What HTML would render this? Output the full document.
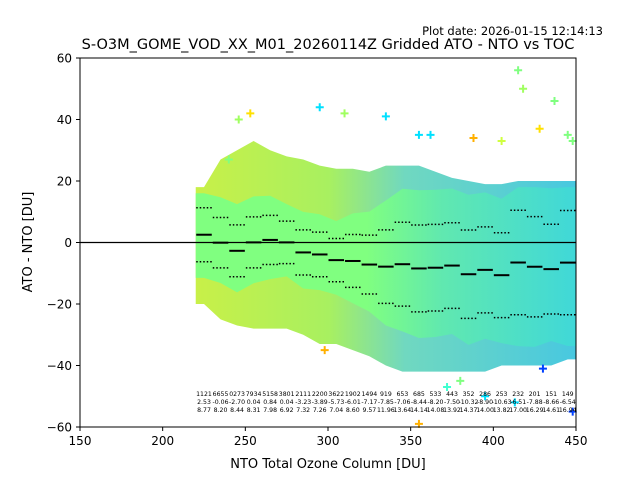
<!DOCTYPE html>
<html><head><meta charset="utf-8"><style>
body{margin:0;background:#fff}
svg text{font-family:"DejaVu Sans","Liberation Sans",sans-serif}
</style></head><body>
<svg id="c" width="640" height="480" viewBox="0 0 640 480">
<defs>
<linearGradient id="outerG" x1="0" x2="1" y1="0" y2="0">
<stop offset="0" stop-color="#c8f048"/><stop offset="0.35" stop-color="#a8f060"/><stop offset="0.55" stop-color="#70d8c0"/><stop offset="1" stop-color="#48c8e0"/></linearGradient>
<linearGradient id="coreG" x1="0" x2="1" y1="0" y2="0">
<stop offset="0" stop-color="#80ff80"/><stop offset="0.45" stop-color="#80ff80"/><stop offset="0.65" stop-color="#60e8b0"/><stop offset="1" stop-color="#40d8d8"/></linearGradient>
</defs>
<text x="603" y="35" font-size="11.5" text-anchor="end">Plot date: 2026-01-15 12:14:13</text>
<text x="328" y="49" font-size="14.5" text-anchor="middle">S-O3M_GOME_VOD_XX_M01_20260114Z Gridded ATO - NTO vs TOC</text>
<g id="plot"></g>
<rect x="80" y="58" width="496" height="369" fill="none" stroke="#000" stroke-width="1"/>
<text x="328" y="468" font-size="13" text-anchor="middle">NTO Total Ozone Column [DU]</text>
<text transform="translate(32,242) rotate(-90)" font-size="13" text-anchor="middle">ATO - NTO [DU]</text>
</svg>
<script>
const binStart=[220,230,240,250,260,270,280,290,300,310,320,330,340,350,360,370,380,390,400,410,420,430,440];
const counts=["1121","6655","0273","7934","5158","3801","2111","2200","3622","1902","1494","919","653","685","533","443","352","286","253","232","201","151","149"];
const means=[2.53,-0.06,-2.70,0.04,0.84,0.04,-3.23,-3.89,-5.73,-6.01,-7.17,-7.85,-7.06,-8.44,-8.20,-7.50,-10.32,-8.90,-10.63,-6.51,-7.88,-8.66,-6.54];
const stds=[8.77,8.20,8.44,8.31,7.98,6.92,7.32,7.26,7.04,8.60,9.57,11.96,13.64,14.14,14.08,13.92,14.37,14.00,13.82,17.00,16.29,14.61,16.94];
const envTop=[18,27,30,33,30,28,27,25,24,24,23,25,25,25,23,21,20,19,19,20,20,20,20];
const envBot=[-20,-25,-27,-28,-28,-28,-30,-33,-33,-35,-37,-40,-42,-42,-42,-42,-42,-42,-40,-40,-40,-40,-38];
const outX=[415,418,437,335,295,310,246,253,388,355,362,445,448,298,355,413,448,430,395,380,428,240,372,405];
const outY=[56,50,46,41,44,42,40,42,34,35,35,35,33,-35,-59,-52,-55,-41,-50,-45,37,27,-47,33];
const outC=["#80ff80","#a0ff60","#80ff80","#00e0ff","#00e0ff","#a0ff60","#a0ff60","#ffe000","#ffb000","#00e0ff","#00e0ff","#80ff80","#80ff80","#ffb000","#ffb000","#00e0ff","#0040ff","#0040ff","#00e0ff","#80ff80","#ffe000","#80ff80","#40ffd0","#d0ff40"];
const xTicks=[150,200,250,300,350,400,450];
const yTicks=[-60,-40,-20,0,20,40,60];
const X=v=>80+(v-150)*496/300, Y=v=>242.5-v*369/120;
const NS="http://www.w3.org/2000/svg", g=document.getElementById('plot');
function mk(t,a){const e=document.createElementNS(NS,t);for(const k in a)e.setAttribute(k,a[k]);g.appendChild(e);return e;}
function band(top,bot){
 const n=binStart.length;let p=[X(binStart[0])+','+Y(top(0))];
 for(let i=0;i<n;i++)p.push(X(binStart[i]+5)+','+Y(top(i)));
 p.push(X(binStart[n-1]+10)+','+Y(top(n-1)));p.push(X(binStart[n-1]+10)+','+Y(bot(n-1)));
 for(let i=n-1;i>=0;i--)p.push(X(binStart[i]+5)+','+Y(bot(i)));
 p.push(X(binStart[0])+','+Y(bot(0)));return p.join(' ');}
let e=mk('polygon',{points:band(i=>envTop[i],i=>envBot[i]),fill:'url(#outerG)'});


e=mk('polygon',{points:band(i=>Math.min(envTop[i]-2,means[i]+1.8*stds[i]),i=>Math.max(envBot[i]+4,means[i]-1.6*stds[i])),fill:'url(#coreG)'});


outX.forEach((x,i)=>{const cx=X(x),cy=Y(outY[i]);
 const p=mk('path',{d:`M${cx-4} ${cy}H${cx+4}M${cx} ${cy-4}V${cy+4}`,stroke:outC[i],'stroke-width':2});
 
 });
e=mk('line',{x1:80,x2:576,y1:Y(0),y2:Y(0),stroke:'#000','stroke-width':1.2});


binStart.forEach((b,i)=>{
 const x1=X(b)+0.5,x2=X(b+10)-0.5;
 let l=mk('line',{x1:x1,x2:x2,y1:Y(means[i]),y2:Y(means[i]),stroke:'#000','stroke-width':2});
 
 
 [1,-1].forEach(s=>{let d=mk('line',{x1:x1,x2:x2,y1:Y(means[i]+s*stds[i]),y2:Y(means[i]+s*stds[i]),stroke:'#000','stroke-width':1.5,'stroke-dasharray':'1.5 2'});
 
 });
 const cx=X(b+5);
 [counts[i],means[i].toFixed(2),stds[i].toFixed(2)].forEach((s,j)=>{
  const t=mk('text',{x:cx,y:396+j*8,'font-size':6.2,'text-anchor':'middle'});t.textContent=s;
  
  });
});
xTicks.forEach(v=>{const x=X(v);
 let l=mk('line',{x1:x,x2:x,y1:427,y2:431,stroke:'#000'});
 
 
 const t=mk('text',{x:x,y:445,'font-size':12,'text-anchor':'middle'});t.textContent=v;
 
 });
yTicks.forEach(v=>{const y=Y(v);
 let l=mk('line',{x1:76,x2:80,y1:y,y2:y,stroke:'#000'});
 
 
 const t=mk('text',{x:72,y:y+4.5,'font-size':12,'text-anchor':'end'});t.textContent=v==0?'0':(v<0?'\u2212'+(-v):v);
 
 });
</script>
</body></html>
